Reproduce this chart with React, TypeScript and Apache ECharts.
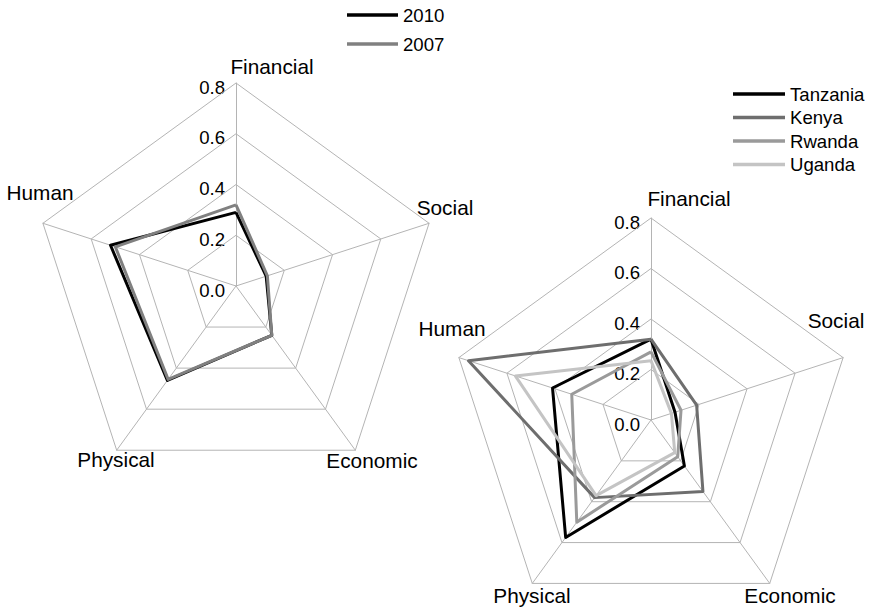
import React, { useEffect, useRef } from "react";
import * as echarts from "echarts";

// Indicator order (counter-clockwise from top, as ECharts places them)
const categories = ["Financial", "Human", "Physical", "Economic", "Social"];
const tickLabels = ["0.0", "0.2", "0.4", "0.6", "0.8"];
const tickValues = [0, 0.2, 0.4, 0.6, 0.8];

// Left chart: years
const yearNames = ["2010", "2007"];
const y2010 = [0.29, 0.52, 0.46, 0.24, 0.125];
const y2007 = [0.32, 0.5, 0.455, 0.24, 0.13];

// Right chart: countries
const countryNames = ["Tanzania", "Kenya", "Rwanda", "Uganda"];
const tanzania = [0.32, 0.41, 0.575, 0.225, 0.1];
const kenya = [0.32, 0.76, 0.38, 0.35, 0.19];
const rwanda = [0.27, 0.33, 0.5, 0.18, 0.125];
const uganda = [0.235, 0.565, 0.37, 0.16, 0.085];

const FONT = "'Liberation Sans', Arial, Helvetica, sans-serif";
const GRID = "#b4b4b4";
const MAXV = 0.8;

const radarLeft = { cx: 236, cy: 286, r: 203 };
const radarRight = { cx: 651, cy: 420, r: 202 };

const namePosLeft: Record<string, [number, number]> = {
  Financial: [272, 66],
  Human: [40, 192],
  Social: [445, 207],
  Physical: [116, 459],
  Economic: [372, 460],
};
const namePosRight: Record<string, [number, number]> = {
  Financial: [689, 198],
  Human: [452, 328],
  Social: [836, 320],
  Physical: [532, 595],
  Economic: [790, 595],
};

export default function App() {
  const ref = useRef<HTMLDivElement>(null);
  useEffect(() => {
    if (!ref.current) return;
    const chart = echarts.init(ref.current, null, { renderer: "svg" });

    const mkRadar = (g: { cx: number; cy: number; r: number }) => ({
      center: [g.cx, g.cy],
      radius: g.r,
      startAngle: 90,
      shape: "polygon",
      splitNumber: 4,
      indicator: categories.map((c) => ({ name: c, min: 0, max: MAXV })),
      axisName: { show: false },
      axisLine: { lineStyle: { color: GRID, width: 1 } },
      splitLine: { lineStyle: { color: GRID, width: 1 } },
      splitArea: { show: false },
      axisTick: { show: false },
      axisLabel: { show: false },
    });

    const graphics: any[] = [];
    const addNames = (pos: Record<string, [number, number]>) => {
      categories.forEach((c) => {
        const p = pos[c];
        graphics.push({
          type: "text",
          x: p[0],
          y: p[1],
          style: {
            text: c,
            font: `20.8px ${FONT}`,
            fill: "#000",
            textAlign: "center",
            textVerticalAlign: "middle",
          },
        });
      });
    };
    const addTicks = (g: { cx: number; cy: number; r: number }) => {
      tickValues.forEach((v, i) => {
        graphics.push({
          type: "text",
          x: g.cx - 11,
          y: g.cy - (v / MAXV) * g.r + 4,
          style: {
            text: tickLabels[i],
            font: `18.6px ${FONT}`,
            fill: "#000",
            textAlign: "right",
            textVerticalAlign: "middle",
          },
        });
      });
    };
    addNames(namePosLeft);
    addNames(namePosRight);
    addTicks(radarLeft);
    addTicks(radarRight);

    const item = (name: string, value: number[], color: string) => ({
      name,
      value,
      symbol: "none",
      lineStyle: { color, width: 3 },
      itemStyle: { color },
    });

    chart.setOption({
      animation: false,
      backgroundColor: "#fff",
      textStyle: { fontFamily: FONT },
      radar: [mkRadar(radarLeft), mkRadar(radarRight)],
      legend: [
        {
          data: yearNames,
          orient: "vertical",
          left: 342,
          top: 0,
          icon: "rect",
          itemWidth: 51,
          itemHeight: 3.5,
          itemGap: 9,
          textStyle: { fontSize: 18.6, lineHeight: 20, color: "#000", fontFamily: FONT },
        },
        {
          data: countryNames,
          orient: "vertical",
          left: 728,
          top: 79,
          icon: "rect",
          itemWidth: 52,
          itemHeight: 3.5,
          itemGap: 3.5,
          textStyle: { fontSize: 18.6, lineHeight: 20, color: "#000", fontFamily: FONT },
        },
      ],
      graphic: graphics,
      series: [
        {
          type: "radar",
          radarIndex: 0,
          symbol: "none",
          data: [item("2010", y2010, "#000000"), item("2007", y2007, "#808080")],
        },
        {
          type: "radar",
          radarIndex: 1,
          symbol: "none",
          data: [
            item("Tanzania", tanzania, "#000000"),
            item("Kenya", kenya, "#6e6e6e"),
            item("Rwanda", rwanda, "#9a9a9a"),
            item("Uganda", uganda, "#c4c4c4"),
          ],
        },
      ],
    });
    return () => chart.dispose();
  }, []);
  return (
    <div
      ref={ref}
      style={{ position: "absolute", left: 0, top: 0, width: 874, height: 610 }}
    />
  );
}
